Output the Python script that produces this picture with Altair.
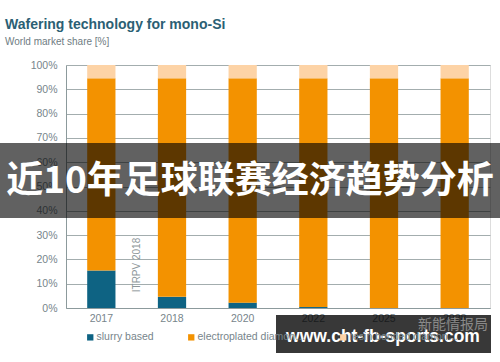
import altair as alt
import pandas as pd

years = ["2017", "2018", "2020", "2022", "2025", "2028"]
techs = ["slurry based", "electroplated diamond wire", "resin bonded diamond wire"]
slurry = [15.4, 4.6, 2.2, 0.4, 0.0, 0.0]
electro = [79.1, 89.9, 92.3, 94.1, 94.5, 94.5]
resin = [5.5, 5.5, 5.5, 5.5, 5.5, 5.5]
colors = ["#0e6383", "#f39200", "#fdd3a6"]

rows = []
for i, y in enumerate(years):
    for k, (t, v) in enumerate(zip(techs, [slurry[i], electro[i], resin[i]])):
        rows.append({"year": y, "tech": t, "share": v, "ord": k})
df = pd.DataFrame(rows)

FONT = "Liberation Sans"
GRAY = "#77858b"

bars = alt.Chart(df).mark_bar().encode(
    x=alt.X("year:N", sort=years, title=None,
            scale=alt.Scale(paddingInner=0.6, paddingOuter=0.3),
            axis=alt.Axis(labelAngle=0, ticks=False, domainColor="#8c9a9c",
                          labelColor=GRAY, labelFontSize=10.5, labelPadding=5,
                          labelFont=FONT)),
    y=alt.Y("share:Q", stack="zero", title=None,
            scale=alt.Scale(domain=[0, 100], nice=False),
            axis=alt.Axis(values=list(range(0, 101, 10)),
                          labelExpr="datum.value + '%'", ticks=False,
                          domainColor="#8c9a9c", gridColor="#a3adae",
                          labelColor=GRAY, labelFontSize=10.5, labelPadding=9,
                          labelFont=FONT)),
    color=alt.Color("tech:N", sort=techs,
                    scale=alt.Scale(domain=techs, range=colors),
                    legend=alt.Legend(orient="none", legendX=19, legendY=267,
                                      direction="horizontal", title=None,
                                      symbolType="square", symbolSize=40,
                                      symbolStrokeWidth=0, labelOffset=1,
                                      labelFontSize=10.5, labelColor=GRAY,
                                      labelFont=FONT, columnPadding=32,
                                      labelLimit=110, padding=0)),
    order=alt.Order("ord:Q"),
)

one = pd.DataFrame({"t": ["x"]})

def label(txt, x, y, **kw):
    return alt.Chart(pd.DataFrame({"t": [txt]})).mark_text(**kw).encode(
        text="t:N", x=alt.value(x), y=alt.value(y))

itrpv = label("ITRPV 2018", 71, 200, angle=270, fontSize=10, color="#8e979a",
              font=FONT, align="center", baseline="middle")
title = label("Wafering technology for mono-Si", -61, -36, fontSize=14,
              fontWeight="bold", color="#2b5f74", font=FONT, align="left",
              baseline="alphabetic")
subtitle = label("World market share [%]", -61, -20, fontSize=10,
                 color="#6f7c82", font=FONT, align="left",
                 baseline="alphabetic")

banner = alt.Chart(one).mark_rect(color="black", opacity=0.62).encode(
    x=alt.value(-66), x2=alt.value(434), y=alt.value(78), y2=alt.value(153))
banner_txt = label("近10年足球联赛经济趋势分析", 184, 117, fontSize=37,
                   fontWeight="bold", color="white",
                   font="Noto Sans CJK SC", align="center", baseline="middle")

wm = alt.Chart(one).mark_rect(color="black", opacity=0.78).encode(
    x=alt.value(210), x2=alt.value(425), y=alt.value(250), y2=alt.value(288))
wm_logo = label("新能情报局", 387, 260, fontSize=14, color="#8a8a8a",
                font="Noto Sans CJK SC", align="center", baseline="middle")
wm_txt = label("www.cht-fb-sports.com", 317, 272, fontSize=17.5,
               fontWeight="bold", color="white", font=FONT,
               align="center", baseline="middle")

chart = alt.layer(bars, itrpv, title, subtitle, banner, banner_txt,
                  wm, wm_logo, wm_txt).properties(
    width=424, height=243,
    autosize=alt.AutoSizeParams(type="none"),
    padding={"left": 66, "top": 65, "right": 10, "bottom": 54},
).configure_view(stroke=None).configure(background="white")

chart.save("out.html", embed_options={"renderer": "svg", "actions": False})
